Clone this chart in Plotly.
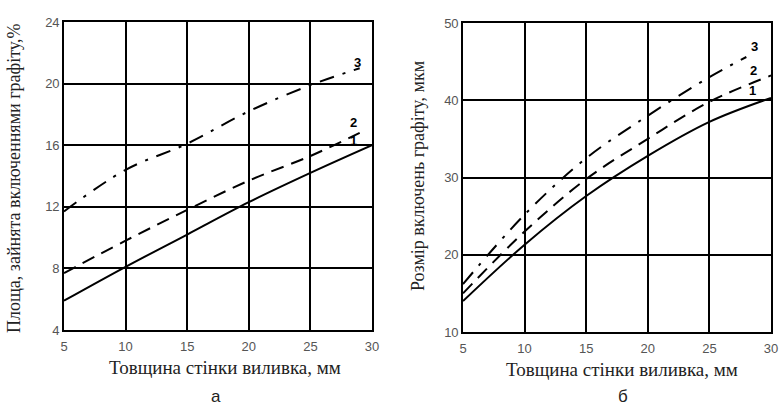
import plotly.graph_objects as go

# Panel a: area occupied by graphite inclusions, %
xa1 = [5, 10, 15, 20, 25, 30]
ya1 = [5.9, 8.1, 10.2, 12.3, 14.2, 16.0]
xa2 = [5, 10, 15, 20, 25, 29]
ya2 = [7.7, 9.8, 11.8, 13.7, 15.3, 16.8]
xa3 = [5, 10, 15, 20, 25, 29]
ya3 = [11.7, 14.4, 16.1, 18.2, 19.9, 21.0]

# Panel b: graphite inclusion size, um
xb1 = [5, 10, 15, 20, 25, 30]
yb1 = [14.0, 21.3, 27.6, 32.8, 37.2, 40.3]
xb2 = [5, 10, 15, 20, 25, 30]
yb2 = [15.0, 23.0, 29.8, 35.0, 39.8, 43.2]
xb3 = [5, 10, 15, 20, 25, 28]
yb3 = [16.2, 25.2, 32.5, 38.0, 43.0, 45.6]

xticks = [5, 10, 15, 20, 25, 30]
yticks_a = [4, 8, 12, 16, 20, 24]
yticks_b = [10, 20, 30, 40, 50]

x_title = "Товщина стінки виливка, мм"
ya_title = "Площа, зайнята включеннями графіту,%"
yb_title = "Розмір включень графіту, мкм"

fig = go.Figure()
styles = [("solid", 2), ("13px,8px", 2), ("15px,9px,3px,9px", 2)]

for xs, ys, (dash, w) in zip([xa1, xa2, xa3], [ya1, ya2, ya3], styles):
    fig.add_trace(go.Scatter(x=xs, y=ys, mode="lines", line=dict(color="black", width=w, dash=dash, shape="spline"),
                             xaxis="x", yaxis="y", showlegend=False, hoverinfo="skip"))
for xs, ys, (dash, w) in zip([xb1, xb2, xb3], [yb1, yb2, yb3], styles):
    fig.add_trace(go.Scatter(x=xs, y=ys, mode="lines", line=dict(color="black", width=w, dash=dash, shape="spline"),
                             xaxis="x2", yaxis="y2", showlegend=False, hoverinfo="skip"))

serif = "Liberation Serif, Times New Roman, serif"
sans = "Liberation Sans, Arial, sans-serif"
tickfont = dict(family=sans, size=13, color="#555")

axis_common = dict(showgrid=True, gridcolor="black", gridwidth=1.6, showline=True, linecolor="black",
                   linewidth=1.6, mirror=True, ticks="", tickfont=tickfont, zeroline=False, automargin=False)

fig.update_layout(
    width=780, height=413, margin=dict(l=0, r=0, t=0, b=0),
    paper_bgcolor="white", plot_bgcolor="white",
    xaxis=dict(domain=[64/780, 372/780], range=[5, 30], tickvals=xticks, anchor="y", ticklabelstandoff=4, **axis_common),
    yaxis=dict(domain=[1-330/413, 1-22/413], range=[4, 24], tickvals=yticks_a, anchor="x", **axis_common),
    xaxis2=dict(domain=[463/780, 771/780], range=[5, 30], tickvals=xticks, anchor="y2", ticklabelstandoff=4, **axis_common),
    yaxis2=dict(domain=[1-332/413, 1-23/413], range=[10, 50], tickvals=yticks_b, anchor="x2", **axis_common),
)

ann = []
lab = dict(family=sans, size=13, color="black")
for x, y, t in [(28.8, 21.4, "<b>3</b>"), (28.5, 17.5, "<b>2</b>"), (28.5, 16.3, "<b>1</b>")]:
    ann.append(dict(x=x, y=y, xref="x", yref="y", text=t, showarrow=False, font=lab,
                    xanchor="center", yanchor="middle"))
for x, y, t in [(28.7, 47.0, "<b>3</b>"), (28.6, 43.9, "<b>2</b>"), (28.5, 41.3, "<b>1</b>")]:
    ann.append(dict(x=x, y=y, xref="x2", yref="y2", text=t, showarrow=False, font=lab,
                    xanchor="center", yanchor="middle"))
tf = dict(family=serif, size=18, color="#222")
txf = dict(family=serif, size=19, color="#222")
ann.append(dict(x=225/780, y=1-367/413, xref="paper", yref="paper", text=x_title, showarrow=False,
                font=txf, xanchor="center", yanchor="middle"))
ann.append(dict(x=622/780, y=1-369/413, xref="paper", yref="paper", text=x_title, showarrow=False,
                font=txf, xanchor="center", yanchor="middle"))
ann.append(dict(x=14/780, y=1-178/413, xref="paper", yref="paper", text=ya_title, showarrow=False, textangle=-90,
                font=tf, xanchor="center", yanchor="middle"))
ann.append(dict(x=418/780, y=1-176/413, xref="paper", yref="paper", text=yb_title, showarrow=False, textangle=-90,
                font=tf, xanchor="center", yanchor="middle"))
ann.append(dict(x=216/780, y=1-396/413, xref="paper", yref="paper", text="а", showarrow=False,
                font=dict(family=sans, size=17, color="#222"), xanchor="center", yanchor="middle"))
ann.append(dict(x=623/780, y=1-396/413, xref="paper", yref="paper", text="б", showarrow=False,
                font=dict(family=sans, size=17, color="#222"), xanchor="center", yanchor="middle"))
fig.update_layout(annotations=ann)

fig.write_html("out.html", config={"displayModeBar": False},
               post_script="document.body.style.margin='0';document.body.style.overflow='hidden';")
